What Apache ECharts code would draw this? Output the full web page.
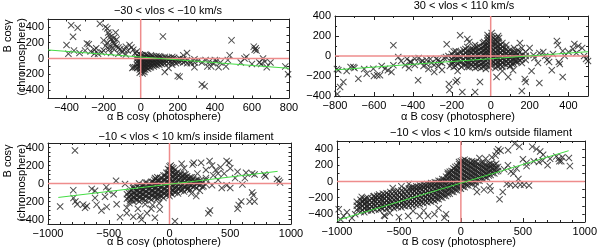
<!DOCTYPE html>
<html><head><meta charset="utf-8">
<script src="https://cdn.jsdelivr.net/npm/echarts@6/dist/echarts.min.js"></script>
<style>html,body{margin:0;padding:0;background:#fff}#c{width:600px;height:250px}</style>
</head><body><div id="c"></div>
<script>
// ---------- titles ----------
const titles = ['\u221230 < vlos < \u221210 km/s', '30 < vlos < 110 km/s',
  '\u221210 < vlos < 10 km/s inside filament', '\u221210 < vlos < 10 km/s outside filament'];
const xTitle = '\u03b1 B cos\u03b3 (photosphere)';
const yTitle1 = 'B cos\u03b3';
const yTitle2 = '(chromosphere)';

// ---------- axis ranges and tick steps (labels shown every labelStep) ----------
const p1XRange = [-500, 800], p1XTick = 100, p1XLabelStep = 200;
const p1YRange = [-500, 500], p1YTick = 100, p1YLabelStep = 200;
const p2XRange = [-800, 500], p2XTick = 200, p2XLabelStep = 200;
const p2YRange = [-400, 400], p2YTick = 200, p2YLabelStep = 200;
const p3XRange = [-1000, 1000], p3XTick = 500, p3XLabelStep = 500;
const p3YRange = [-450, 450], p3YTick = 50, p3YLabelStep = 200;
const p4XRange = [-1000, 1000], p4XTick = 500, p4XLabelStep = 500;
const p4YRange = [-500, 500], p4YTick = 100, p4YLabelStep = 200;

// ---------- data: panel 1 (-30 < vlos < -10) ----------
const p1Left = [[-400,170],[-390,60],[-375,420],[-340,390],[-365,275],[-360,100],[-330,70],[-300,100],[-290,190],[-280,180],[-270,90],[-250,110],[-240,130],[-230,60],[-220,440],[-210,80],[-200,100],[-190,400],[-180,380],[-175,330],[-170,300],[-165,270],[-160,240],[-150,220],[-145,190],[-140,170],[-135,330],[-130,150],[-120,140],[-110,120],[-150,130],[-170,150],[-180,200],[-190,160],[-200,230],[-100,80],[-90,110],[-80,150],[-70,100],[-60,170],[-50,140],[-40,110],[-30,70],[-20,90],[-40,-110],[-250,60],[-160,70],[-120,60],[-80,50],[-170,120],[-130,240],[-145,260]];
const p1CoreCols = [[-20,[-120,-80,-40,0,40]],[-5,[-180,-140,-100,-60,-20,20,50]],[10,[-160,-120,-80,-40,0,40]],[25,[-140,-100,-60,-20,20,50]],[40,[-130,-90,-50,-10,30]],[55,[-110,-70,-30,10,40]],[70,[-100,-60,-20,20]],[85,[-90,-50,-10,30]],[100,[-80,-40,0,30]],[115,[-70,-30,10]],[130,[-60,-20,20]],[150,[-60,-20,10]],[170,[-50,-10,20]],[190,[-60,-20]],[210,[-40,0]],[230,[-50,-10]],[250,[-60,-20]],[270,[-40]],[290,[-50,-10]],[310,[-30]],[330,[-50]],[350,[-20]],[370,[-40]],[390,[-60]],[410,[-30]],[430,[-50]]];
const p1CoreCols2 = [[-12,[-100,-60,-20,20]],[3,[-160,-120,-80,-40,0,40]],[18,[-140,-100,-60,-20,20]],[33,[-120,-80,-40,0,40]],[48,[-110,-70,-30,10]],[63,[-90,-50,-10,30]],[78,[-80,-40,0]],[93,[-70,-30,10]],[108,[-60,-20,20]],[123,[-50,-10]],[140,[-40,0]],[160,[-40,0]],[180,[-30,10]],[200,[-40,-10]],[220,[-20]],[240,[-30]]];
const p1Right = [[-30,-110],[-45,-120],[10,-190],[20,-170],[130,-170],[150,-120],[170,-80],[200,-220],[210,-230],[230,40],[250,70],[270,-60],[290,-110],[330,-330],[345,-350],[360,-100],[380,-100],[400,-20],[420,-110],[460,-100],[470,-20],[480,40],[490,230],[120,280],[540,-50],[560,0],[570,20],[600,-70],[610,150],[620,130],[615,110],[625,100],[640,-50],[650,-70],[660,0],[670,-40],[680,-110],[700,-50],[780,-100],[795,-200]];
const p1Fit = [[-500,108],[800,-124]];

// ---------- data: panel 2 (30 < vlos < 110) ----------
const p2Left = [[-790,-130],[-783,-143],[-774,-310],[-757,-260],[-788,-380],[-740,-150],[-706,-110],[-700,-120],[-680,-227],[-637,-177],[-603,-127],[-583,-193],[-569,-193],[-600,-200],[-543,-127],[-528,-143],[-500,107],[-475,-10],[-510,-160],[-500,-93],[-440,-93],[-415,-60],[-390,-27],[-373,-243],[-360,-60],[-345,-100],[-330,-40],[-320,-130],[-305,-70],[-290,-160],[-280,-30],[-270,-100],[-260,-60],[-250,-140],[-240,-20],[-226,117],[-217,0],[-215,-280],[-212,-340],[-200,-60],[-190,-110],[-180,-30],[-172,-243],[-170,-150],[-157,207],[-180,-260],[-146,-360],[-120,170],[-110,140],[-80,-360],[-55,-260],[-90,70],[-80,110],[-420,-120],[-460,-50],[-650,-130],[-720,-110],[-560,-100],[-430,-30],[-410,-60],[-390,-90],[-370,-20],[-350,-50],[-330,-80],[-310,-30],[-290,-90],[-270,-40],[-250,-70],[-230,-10],[-210,-100]];
const p2CoreCols = [[-8,[-110,-80,-50,-20,10,40,70,100,130,160,190]],[5,[-100,-70,-40,-10,20,50,80,110,140,170,200,230]],[15,[-60,0,60,120,180]],
 [-200,[-80,-30,20]],[-180,[-100,-50,0,50]],[-160,[-60,-10,40]],[-140,[-90,-40,10,60]],[-120,[-110,-70,-30,10,50,90]],[-100,[-90,-50,-10,30,70]],[-80,[-120,-80,-40,0,40,80]],[-60,[-100,-60,-20,20,60,100]],[-40,[-110,-70,-30,10,50,90,130]],[-25,[-130,-90,-50,-10,30,70,110]],
 [25,[-120,-80,-40,0,40,80,120,160]],[40,[-100,-60,-20,20,60,100,140]],[60,[-110,-70,-30,10,50,90,130]],[80,[-90,-50,-10,30,70,110]],[100,[-100,-60,-20,20,60]],[120,[-80,-40,0,40,80]],[140,[-60,-20,20,60]],[160,[-70,-30,10]],[180,[-40,0,40]]];
const p2CoreCols2 = [[-190,[-55,-5,45]],[-170,[-80,-30,20]],[-150,[-110,-60,-10,40]],[-130,[-90,-50,-10,30,70]],[-110,[-110,-70,-30,10,50]],[-90,[-100,-60,-20,20,60]],[-70,[-110,-70,-30,10,50,90]],[-50,[-120,-80,-40,0,40,80]],[-33,[-100,-60,-20,20,60,100,140]],[-16,[30,60,90,120,150,180,210]],[32,[-100,-60,-20,20,60,100,140,180]],[50,[-90,-50,-10,30,70,110]],[70,[-80,-40,0,40,80]],[90,[-70,-30,10,50]],[110,[-80,-40,0,40]],[130,[-50,-10,30]],[150,[-40,0,40]]];
const p2Right = [[38,200],[43,180],[30,-210],[90,-210],[115,-143],[150,130],[160,80],[175,-230],[180,-260],[160,-350],[210,-150],[243,-70],[250,-270],[314,-143],[340,150],[345,110],[370,50],[380,0],[350,-60],[355,-80],[370,-210],[423,70],[430,120],[450,100],[470,80],[480,0],[490,-30],[500,-50],[280,0],[290,-40],[300,-60],[220,10],[225,-20],[200,80],[60,-150],[100,-100],[130,-60],[250,30],[270,40],[320,20],[400,40],[440,30]];
const p2Fit = [[-800,-139],[500,43]];

// ---------- data: panel 3 (inside filament) ----------
const p3CoreCols = [[-350,[-170,-120]],[-325,[-190,-140,-90]],[-300,[-200,-150,-100,-50]],[-275,[-180,-130,-80]],[-250,[-200,-150,-100,-50,0]],[-225,[-170,-120,-70,-20]],[-200,[-190,-140,-90,-40,10]],[-175,[-160,-110,-60,-10]],[-150,[-180,-130,-80,-30,20]],[-125,[-150,-100,-50,0,40]],[-100,[-170,-120,-70,-20,30,70]],[-75,[-140,-90,-40,10,60]],[-50,[-160,-110,-60,-10,40,90]],[-25,[-130,-80,-30,20,70,120]],[0,[-140,-100,-50,0,50,100,150,190]],[20,[-120,-70,-20,30,80,130,180]],[45,[-100,-50,0,50,100,150]],[70,[-110,-60,-10,40,90,130]],[95,[-80,-30,20,70,110]],[120,[-90,-40,10,60,100]],[145,[-60,-10,40,80]],[170,[-70,-20,30,70]],[195,[-40,10,50]],[220,[-50,0,40]],[245,[-20,30]],[270,[-40,10]],[300,[-10,40]]];
const p3CoreCols2 = [[-337,[-150,-100]],[-312,[-175,-125,-75]],[-287,[-160,-110,-60]],[-262,[-180,-130,-80,-30]],[-237,[-150,-100,-50]],[-212,[-170,-120,-70,-20]],[-187,[-140,-90,-40,10]],[-162,[-160,-110,-60,-10]],[-137,[-130,-80,-30,20]],[-112,[-150,-100,-50,0,50]],[-87,[-120,-70,-20,30]],[-62,[-140,-90,-40,10,60]],[-37,[-110,-60,-10,40,90]],[-12,[-120,-80,-30,20,70,120,160]],[10,[-100,-50,0,50,100,150,200]],[32,[-80,-30,20,70,120,170]],[57,[-90,-40,10,60,110]],[82,[-60,-10,40,90]],[107,[-70,-20,30,80]],[132,[-40,10,60,100]],[157,[-50,0,50]],[182,[-20,30,70]],[207,[-30,20]],[232,[0,40]],[257,[-10,30]]];
const p3Scatter = [[-900,-255],[-778,367],[-792,-74],[-790,-160],[-775,-200],[-760,-230],[-710,-235],[-695,-270],[-680,-250],[-613,-160],[-613,-80],[-600,-235],[-517,-260],[-531,-148],[-504,-80],[-520,-40],[-435,-230],[-440,30],[-366,-5],[-352,-270],[-352,-330],[-298,-370],[-407,-374],[-200,-230],[-185,-330],[-150,-280],[-140,-240],[-230,-400],[-240,-360],[-119,60],[-90,-150],[-85,-220],[-80,-290],[-120,-380],[-260,-280],[-300,-30],[-330,-220],[-460,-120],[-560,-300],[-640,-60],[45,-420],[320,-330],[333,-300],[560,-280],[570,-240],[600,-10],[590,-200],[660,-200],[680,-100],[690,-130],[700,-200],[630,120],[680,110],[700,100],[780,100],[790,80],[885,50],[900,30],[910,10],[190,210],[200,230],[260,230],[300,150],[330,250],[350,200],[380,150],[420,180],[470,250],[490,230],[500,170],[450,110],[400,110],[430,-50],[470,-20],[350,-20],[300,60],[250,-80],[220,-140],[180,-110],[150,-60],[120,170],[100,220],[540,60],[560,130],[620,60],[500,-50],[400,40],[360,90],[280,-30],[230,110]];
const p3Fit = [[-915,-155],[890,135]];

// ---------- data: panel 4 (outside filament) ----------
const p4BandCols = [[-840,[-350,-300,-250]],[-810,[-375,-325,-275,-225]],[-780,[-380,-330,-280,-230]],[-750,[-355,-305,-255,-205]],[-720,[-360,-310,-260,-210]],[-690,[-345,-295,-245,-195]],[-660,[-350,-300,-250,-200,-160]],[-630,[-335,-285,-235,-185,-150]],[-600,[-340,-290,-240,-190,-145]],[-570,[-325,-275,-225,-175,-130]],[-540,[-330,-280,-230,-180,-125]],[-510,[-315,-265,-215,-165,-115]],[-480,[-320,-270,-220,-170,-110]],[-450,[-305,-255,-205,-155,-95]],[-420,[-300,-250,-200,-150,-85]],[-390,[-295,-245,-195,-145,-95,-70]],[-360,[-290,-240,-190,-140,-90,-60]],[-330,[-280,-230,-180,-130,-80,-50]],[-300,[-270,-220,-170,-120,-70,-40]],[-270,[-260,-210,-160,-110,-60,-30]],[-240,[-250,-200,-150,-100,-50,-20]],[-210,[-240,-190,-140,-90,-40,-10]],[-180,[-220,-170,-120,-70,-20,10]],[-150,[-200,-150,-100,-50,0,30]],[-120,[-180,-130,-80,-30,20,60]],[-90,[-150,-100,-50,0,50,100,120]],[-60,[-130,-80,-30,20,70,120,160]],[-30,[-110,-60,-10,40,90,140,190]],[0,[-90,-40,10,60,110,160,210,250]],[30,[-70,-20,30,80,130,180,230,270]],[60,[-50,0,50,100,150,200,250]],[90,[-30,20,70,120,170,220,250]],[120,[-10,40,90,140,190,240]],[150,[10,60,110,160,210]],[180,[30,80,130,180,230]],[210,[50,100,150,200]],[240,[80,130,180,220]],[270,[100,150,200]],[300,[130,180]]];
const p4BandCols2 = [[-825,[-325,-275]],[-795,[-350,-300,-250]],[-765,[-355,-305,-255,-205]],[-735,[-330,-280,-230]],[-705,[-335,-285,-235,-185]],[-675,[-320,-270,-220,-175]],[-645,[-325,-275,-225,-180]],[-615,[-310,-260,-210,-165]],[-585,[-315,-265,-215,-160]],[-555,[-300,-250,-200,-150]],[-525,[-305,-255,-205,-145]],[-495,[-290,-240,-190,-135]],[-465,[-295,-245,-195,-130]],[-435,[-280,-230,-180,-120]],[-405,[-275,-225,-175,-115,-80]],[-375,[-270,-220,-170,-120,-75]],[-345,[-265,-215,-165,-115,-65]],[-315,[-255,-205,-155,-105,-55]],[-285,[-245,-195,-145,-95,-45]],[-255,[-235,-185,-135,-85,-35]],[-225,[-225,-175,-125,-75,-25]],[-195,[-215,-165,-115,-65,-15]],[-165,[-195,-145,-95,-45,5]],[-135,[-175,-125,-75,-25,25]],[-105,[-155,-105,-55,-5,45,90]],[-75,[-125,-75,-25,25,75,130]],[-45,[-105,-55,-5,45,95,145,180]],[-15,[-85,-35,15,65,115,165,215,240]],[15,[-65,-15,35,85,135,185,235,260]],[45,[-45,5,55,105,155,205,255]],[75,[-25,25,75,125,175,225]],[105,[-5,45,95,145,195,240]],[135,[15,65,115,165,215]],[165,[35,85,135,185,230]],[195,[55,105,155,205]],[225,[75,125,175,215]],[255,[105,155,205]],[285,[125,175,220]]];
const p4Scatter = [[-986,-343],[-946,-426],[-970,-469],[-853,-405],[-800,-190],[-776,-215],[-790,-240],[-700,-180],[-700,-230],[-640,-323],[-613,-426],[-574,-388],[-426,-426],[-386,-365],[-333,-426],[-266,-426],[-213,-405],[-133,-447],[-120,-405],[-106,109],[-500,-440],[-880,-450],[-920,-380],[-550,-80],[-480,-60],[-420,-30],[-620,-420],[-300,-360],[-180,-330],[302,397],[320,380],[290,370],[381,385],[434,470],[472,430],[576,430],[610,400],[640,370],[664,330],[501,274],[530,230],[530,190],[588,250],[630,240],[660,260],[770,310],[790,280],[795,250],[872,290],[880,190],[424,100],[404,122],[464,30],[370,-30],[400,-40],[440,-50],[480,-40],[510,-40],[550,-50],[234,-60],[312,-220],[338,-130],[240,-110],[186,-100],[120,-60],[130,-130],[350,150],[380,200],[250,300],[280,320],[200,280],[150,290],[450,160],[700,200],[720,280],[820,300],[810,250]];
const p4Fit = [[-1000,-480],[870,380]];

// ---------- assemble ----------
const flat = cols => cols.reduce((a, c) => a.concat(c[1].map(y => [c[0], y])), []);
const FONT = '"Liberation Sans", Arial, Helvetica, sans-serif';
const panels = [
  {grid:{left:48,top:19,width:241,height:79}, xr:p1XRange, xi:p1XTick, xs:p1XLabelStep, xmin:0, yr:p1YRange, yi:p1YTick, ys:p1YLabelStep, ymin:0,
   pts:[].concat(p1Left,flat(p1CoreCols),flat(p1CoreCols2),p1Right), fit:p1Fit},
  {grid:{left:335,top:16,width:253,height:80}, xr:p2XRange, xi:p2XTick, xs:p2XLabelStep, xmin:2, yr:p2YRange, yi:p2YTick, ys:p2YLabelStep, ymin:2,
   pts:[].concat(p2Left,flat(p2CoreCols),flat(p2CoreCols2),p2Right), fit:p2Fit},
  {grid:{left:48,top:143,width:243,height:81}, xr:p3XRange, xi:p3XTick, xs:p3XLabelStep, xmin:5, yr:p3YRange, yi:p3YTick, ys:p3YLabelStep, ymin:0,
   pts:[].concat(flat(p3CoreCols),flat(p3CoreCols2),p3Scatter), fit:p3Fit},
  {grid:{left:337,top:141,width:250,height:81}, xr:p4XRange, xi:p4XTick, xs:p4XLabelStep, xmin:5, yr:p4YRange, yi:p4YTick, ys:p4YLabelStep, ymin:0,
   pts:[].concat(flat(p4BandCols),flat(p4BandCols2),p4Scatter), fit:p4Fit}
];

const AX = '#222';
const CROSS = 'path://M0,1L1,0L5,4L9,0L10,1L6,5L10,9L9,10L5,6L1,10L0,9L4,5Z';
const fmtStep = step => v => (Math.round(v) % step !== 0 ? '' : (v < 0 ? '\u2212' + Math.abs(v) : String(v)));

const grids = [], xAxes = [], yAxes = [], series = [];
panels.forEach((P, gi) => {
  grids.push(P.grid);
  const mk = (range, interval, step, minorN, pos, withLabel) => ({
    gridIndex: gi, type: 'value', position: pos, min: range[0], max: range[1], interval: interval,
    splitLine: {show: false},
    axisLine: {show: true, onZero: false, lineStyle: {color: AX, width: 1}},
    axisTick: {show: true, inside: true, length: interval < step ? 2.5 : 4, lineStyle: {color: AX, width: 1}},
    minorTick: {show: minorN > 0, splitNumber: minorN || 5, length: 2, lineStyle: {color: AX, width: 1}},
    axisLabel: withLabel ? {show: true, formatter: fmtStep(step), margin: 4, fontSize: 11, fontFamily: FONT,
      color: '#000', hideOverlap: false, showMinLabel: true, showMaxLabel: true} : {show: false}
  });
  xAxes.push(mk(P.xr, P.xi, P.xs, P.xmin, 'bottom', true), mk(P.xr, P.xi, P.xs, P.xmin, 'top', false));
  yAxes.push(mk(P.yr, P.yi, P.ys, P.ymin, 'left', true), mk(P.yr, P.yi, P.ys, P.ymin, 'right', false));
  const xi = gi * 2, yi = gi * 2;
  series.push({type: 'line', xAxisIndex: xi, yAxisIndex: yi, symbol: 'none',
    lineStyle: {color: '#ee8c8c', width: 1.5}, data: [[0, P.yr[0]], [0, P.yr[1]]]});
  series.push({type: 'line', xAxisIndex: xi, yAxisIndex: yi, symbol: 'none',
    lineStyle: {color: '#ee8c8c', width: 1.5}, data: [[P.xr[0], 0], [P.xr[1], 0]]});
  series.push({type: 'scatter', xAxisIndex: xi, yAxisIndex: yi, data: P.pts, symbol: CROSS, symbolSize: 7,
    itemStyle: {color: '#222'}, silent: true});
  series.push({type: 'line', xAxisIndex: xi, yAxisIndex: yi, data: P.fit, symbol: 'none', silent: true,
    lineStyle: {color: '#44dd44', width: 1}});
});

const txt = (x, y, s, rot) => ({type: 'text', x: x, y: y, rotation: rot || 0, silent: true,
  style: {text: s, fontSize: 11, fontFamily: FONT, fill: '#000', align: 'center', verticalAlign: 'middle'}});

const graphic = [
  txt(168, 11, titles[0]), txt(464, 6, titles[1]), txt(186, 137, titles[2]), txt(481, 133, titles[3]),
  txt(164, 117, xTitle), txt(458, 117, xTitle), txt(164, 242, xTitle), txt(459, 242, xTitle),
  txt(8, 36, yTitle1, Math.PI/2), txt(22, 57, yTitle2, Math.PI/2),
  txt(8, 161, yTitle1, Math.PI/2), txt(22, 183, yTitle2, Math.PI/2)
];

const chart = echarts.init(document.getElementById('c'), null, {renderer: 'canvas'});
chart.setOption({animation: false, backgroundColor: '#fff', grid: grids, xAxis: xAxes, yAxis: yAxes, series: series, graphic: graphic});
</script></body></html>
